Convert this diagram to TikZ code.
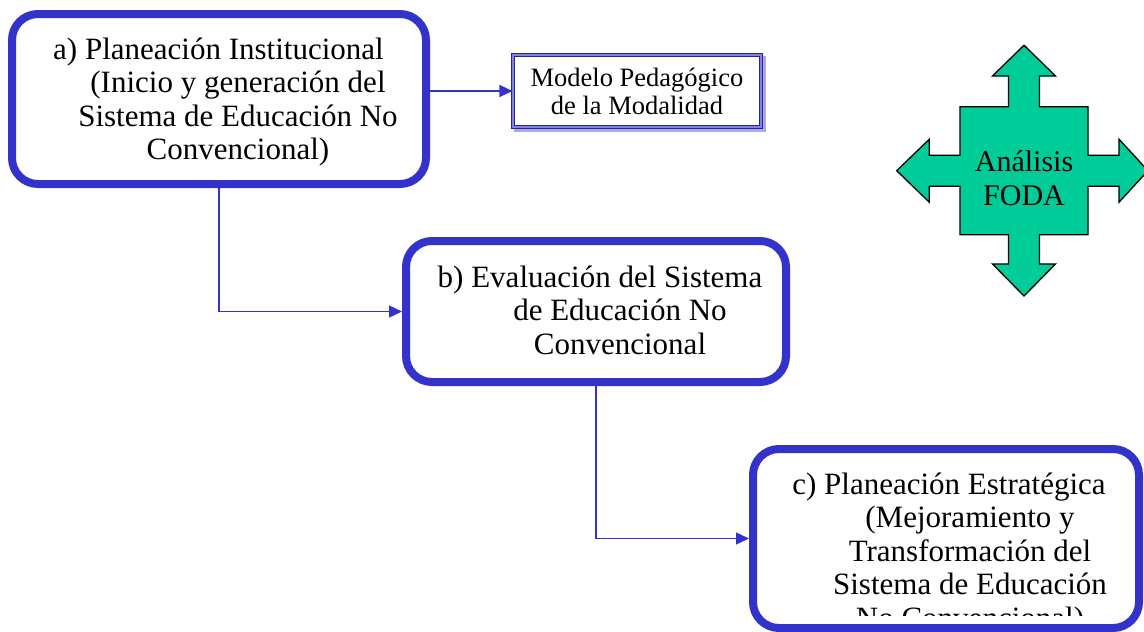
\documentclass[tikz,border=0pt]{standalone}
\usepackage{fontspec}
\setmainfont{Liberation Serif}
\usetikzlibrary{arrows.meta}
\definecolor{bblue}{RGB}{51,51,204}
\definecolor{navyb}{RGB}{40,40,140}
\definecolor{lightb}{RGB}{130,130,230}
\definecolor{shadowb}{RGB}{170,170,235}
\definecolor{fodagreen}{RGB}{0,204,153}
\begin{document}
\begin{tikzpicture}[x=1pt,y=-1pt,
  stage/.style={draw=bblue,line width=8pt,rounded corners=26pt,fill=white,inner sep=0pt},
  stagetext/.style={align=center,font=\fontsize{31}{33.5}\selectfont,inner sep=0pt},
  conn/.style={draw=bblue,line width=1.3pt,-{Triangle[length=13pt,width=12pt]}},
  modelbox/.style={draw=navyb,double=lightb,double distance=2.4pt,line width=1.1pt,inner sep=0pt,
    minimum width=248pt,minimum height=72pt,fill=white,
    font=\fontsize{26.5}{28}\selectfont,align=center}
]
\useasboundingbox (0,0) rectangle (1144,632);

% boxes
\node[stage,minimum width=414pt,minimum height=170pt] (a) at (219,99) {};
\node[stage,minimum width=380pt,minimum height=141pt] (b) at (596,311.5) {};
\node[stage,minimum width=386pt,minimum height=179pt] (c) at (946,538.5) {};

% texts
\node[stagetext] (ta) at (238,102) {\hspace*{-39pt}a) Planeación Institucional\\(Inicio y generación del\\Sistema de Educación No\\Convencional)};
\node[stagetext] (tb) at (620,310) {\hspace*{-40pt}b) Evaluación del Sistema\\de Educación No\\Convencional};
\begin{scope}
  \clip (757,453) rectangle (1135,615);
  \node[stagetext] (tc) at (970,554) {\hspace*{-42pt}c) Planeación Estratégica\\(Mejoramiento y\\Transformación del\\Sistema de Educación\\No Convencional)};
\end{scope}

% modelo box with shadow
\draw[shadowb,line width=4pt] (516,58) rectangle (764,130);
\node[modelbox] (m) at (637,91) {Modelo Pedagógico\\de la Modalidad};

% connectors
\draw[conn] (m.west -| a.east) -- (m.west);
\draw[conn] (a.south) |- (b.west);
\draw[conn] (b.south) |- (c.west);

% FODA cross arrow
\begin{scope}[shift={(1024,170.7)}]
  \draw[fill=fodagreen,line width=1.3pt,line join=miter]
    (0,-125.5) -- (31.5,-94.7) -- (15.5,-94.7) -- (15.5,-64) -- (64,-64) -- (64,-15.5)
    -- (95,-15.5) -- (95,-31.5) -- (124,0) -- (95,31.5) -- (95,15.5) -- (64,15.5)
    -- (64,64) -- (15.5,64) -- (15.5,93.3) -- (31.5,93.3) -- (0,125.3) -- (-31.5,93.3)
    -- (-15.5,93.3) -- (-15.5,64) -- (-64,64) -- (-64,15.5) -- (-94.7,15.5) -- (-94.7,31.5)
    -- (-127.3,0) -- (-94.7,-31.5) -- (-94.7,-15.5) -- (-64,-15.5) -- (-64,-64) -- (-15.5,-64)
    -- (-15.5,-94.7) -- (-31.5,-94.7) -- cycle;
\end{scope}
\node[align=center,inner sep=0pt,font=\fontsize{30}{33.5}\selectfont] (foda) at (1024,178) {Análisis\\FODA};
\end{tikzpicture}
\end{document}
